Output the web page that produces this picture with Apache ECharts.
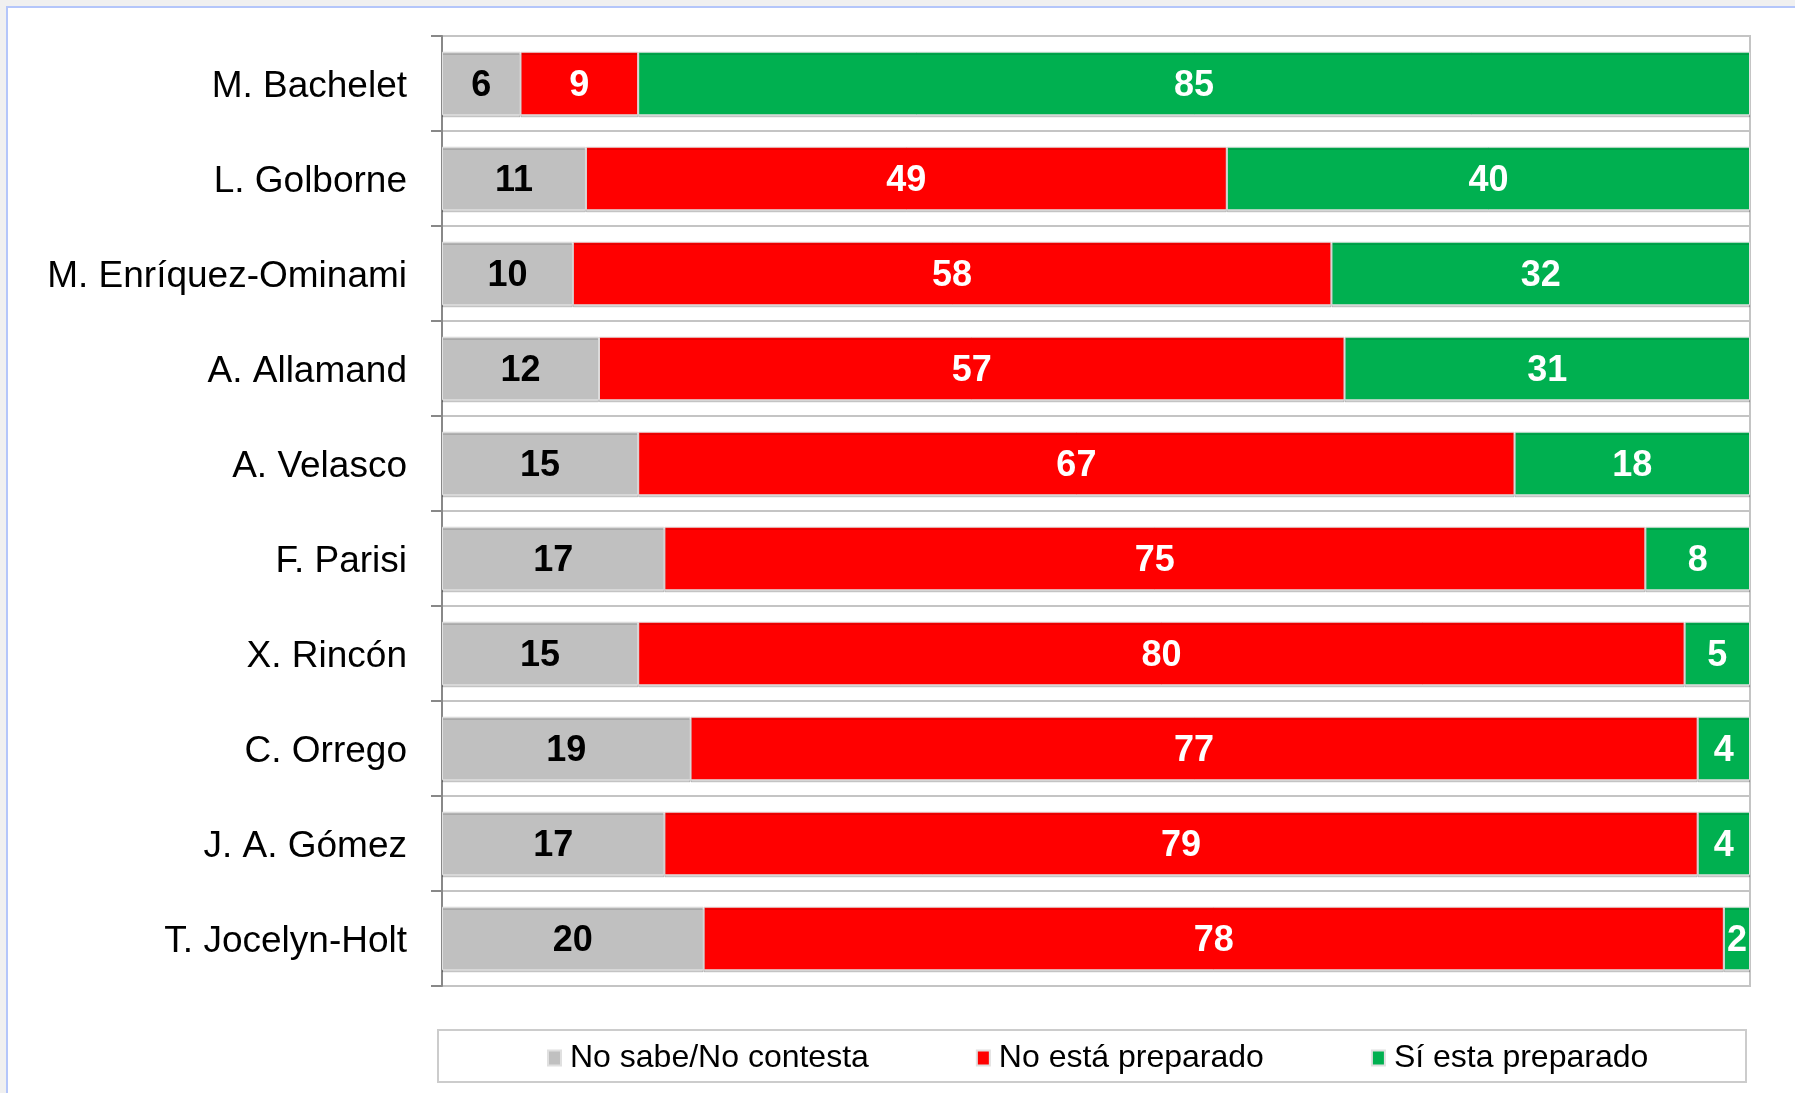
<!DOCTYPE html>
<html>
<head>
<meta charset="utf-8">
<script src="https://cdn.jsdelivr.net/npm/echarts@6/dist/echarts.min.js"></script>
<style>
html, body { margin: 0; padding: 0; width: 1795px; height: 1093px; overflow: hidden; background: #f0f0f0; }
#frame { position: absolute; left: 6px; top: 6px; width: 1900px; height: 1200px; background: #ffffff; border-left: 2px solid #b4c6fa; border-top: 2px solid #b4c6fa; }
#chart { position: absolute; left: 0; top: 0; width: 1795px; height: 1093px; }
</style>
</head>
<body>
<div id="frame"></div>
<div id="chart"></div>
<script>
const categories = ["M. Bachelet", "L. Golborne", "M. Enríquez-Ominami", "A. Allamand", "A. Velasco", "F. Parisi", "X. Rincón", "C. Orrego", "J. A. Gómez", "T. Jocelyn-Holt"];
const seriesNames = ["No sabe/No contesta", "No está preparado", "Sí esta preparado"];
const noSabe = [6, 11, 10, 12, 15, 17, 15, 19, 17, 20];
const noPreparado = [9, 49, 58, 57, 67, 75, 80, 77, 79, 78];
const siPreparado = [85, 40, 32, 31, 18, 8, 5, 4, 4, 2];
const colors = ["#C0C0C0", "#FF0000", "#00B050"];
const labelColors = ["#000000", "#ffffff", "#ffffff"];

const FONT = "'Liberation Sans', Arial, sans-serif";
const chart = echarts.init(document.getElementById('chart'), null, { renderer: 'canvas' });
const values = [noSabe, noPreparado, siPreparado];

const series = values.map((arr, i) => ({
  name: seriesNames[i],
  type: 'bar',
  stack: 'total',
  data: arr,
  barCategoryGap: '33%',
  itemStyle: { color: colors[i], borderColor: '#e0e0e0', borderWidth: 1, shadowColor: 'rgba(0,0,0,0.18)', shadowOffsetY: 2, shadowBlur: 0 },
  label: {
    show: true,
    position: 'inside',
    offset: [0, 3],
    color: labelColors[i],
    fontFamily: FONT,
    fontWeight: 'bold',
    fontSize: 36
  },
  emphasis: { disabled: true }
}));

chart.setOption({
  animation: false,
  backgroundColor: 'transparent',
  textStyle: { fontFamily: FONT },
  grid: { left: 442, right: 45, top: 36, bottom: 107, show: true, borderColor: '#c4c4c4', borderWidth: 2, backgroundColor: 'transparent' },
  graphic: [{
    type: 'rect',
    shape: { x: 438, y: 1030, width: 1308, height: 52 },
    style: { fill: '#ffffff', stroke: '#cccccc', lineWidth: 2 },
    z: -1
  }],
  legend: {
    left: 542,
    top: 1037,
    itemGap: 107,
    itemWidth: 13,
    itemHeight: 15,
    icon: 'rect',
    textStyle: { fontFamily: FONT, fontSize: 32, color: '#000', padding: [0, 0, 0, 4] },
    data: seriesNames
  },
  xAxis: {
    type: 'value', min: 0, max: 100,
    axisLine: { show: false }, axisTick: { show: false }, axisLabel: { show: false }, splitLine: { show: false }
  },
  yAxis: {
    type: 'category',
    data: categories,
    inverse: true,
    axisLine: { show: true, lineStyle: { color: '#888888', width: 2 } },
    axisTick: { show: true, length: 11, lineStyle: { color: '#888888', width: 2 } },
    axisLabel: {
      margin: 35,
      formatter: v => '{c|' + v + '}',
      rich: { c: { fontFamily: FONT, fontSize: 37, color: '#000', padding: [6, 0, 0, 0] } }
    },
    splitLine: { show: true, lineStyle: { color: '#c4c4c4', width: 2 } }
  },
  series: series
});
</script>
</body>
</html>
